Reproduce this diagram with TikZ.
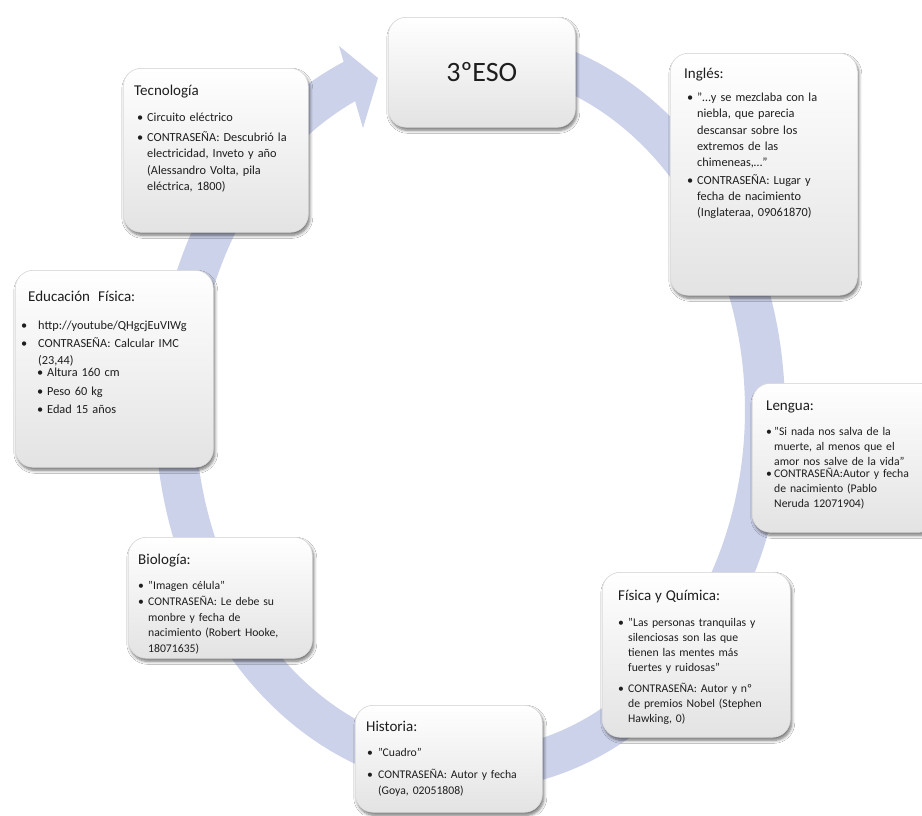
\documentclass[tikz,border=0pt]{standalone}
\usepackage{fontspec}
\setmainfont{Carlito}
\usetikzlibrary{shadows,shadows.blur}
\definecolor{ringc}{RGB}{204,210,234}
\definecolor{txt}{RGB}{30,30,30}
\newcommand{\hd}[2][0pt]{\noindent\hspace*{#1}{\fontsize{15}{18}\selectfont #2}\par}
\newcommand{\itm}[4]{\par\vspace{#1}\noindent\hspace*{#2}\makebox[0pt][l]{\textbullet}\hspace*{\dimexpr#3-#2\relax}\parbox[t]{220pt}{#4}\par}
\tikzset{
 sbox/.style={draw=black!15, line width=0.6pt, rounded corners=18pt, top color=white, bottom color=black!11, anchor=north west, inner sep=0pt, blur shadow={shadow xshift=1.5pt, shadow yshift=-3pt, shadow blur steps=6, shadow blur radius=3pt, shadow opacity=55}},
 stext/.style={anchor=north west, inner sep=0pt, text width=240pt, align=left, text=txt},
}
\begin{document}
\begin{tikzpicture}[x=1pt,y=-1pt]
\useasboundingbox (0,0) rectangle (922,815);
\fill[white] (0,0) rectangle (922,815);
% ring with arrow
\draw[ringc, line width=40pt] plot[domain=-248:80, samples=240, smooth] ({470+295*cos(\x)},{410-360*sin(\x)});
\fill[ringc] (339,46) -- (378,78) -- (363,128) -- cycle;
% boxes
\node[sbox, minimum width=187pt, minimum height=110pt] (eso) at (388,17) {};
\node[font=\fontsize{28}{30}\selectfont, text=txt] (esot) at (eso.center) {3ºESO};
\node[sbox, minimum width=185pt, minimum height=164pt] (tec) at (123,68) {};
\node[sbox, minimum width=187pt, minimum height=242pt] (ing) at (670,53) {};
\node[sbox, minimum width=198pt, minimum height=197pt] (edu) at (15,270) {};
\node[sbox, minimum width=185pt, minimum height=149pt] (len) at (752,383) {};
\node[sbox, minimum width=184pt, minimum height=121pt] (bio) at (128,537) {};
\node[sbox, minimum width=188pt, minimum height=165pt] (fyq) at (602,572) {};
\node[sbox, minimum width=187pt, minimum height=107pt] (his) at (355,705) {};
% texts
\node[stext, font=\fontsize{12.3}{16.5}\selectfont] (tect) at (134,84.5) {\hd{Tecnología}
\itm{9.5pt}{3pt}{13pt}{Circuito eléctrico}
\itm{3.5pt}{3pt}{13pt}{CONTRASEÑA: Descubrió la\\electricidad, Inveto y año\\(Alessandro Volta, pila\\eléctrica, 1800)}};
\node[stext, font=\fontsize{12.3}{16.3}\selectfont] (ingt) at (684,67.5) {\hd{Inglés:}
\itm{7pt}{3pt}{13pt}{"…y se mezclaba con la\\niebla, que parecia\\descansar sobre los\\extremos de las\\chimeneas,…"}
\itm{5.4pt}{3pt}{13pt}{CONTRASEÑA: Lugar y\\fecha de nacimiento\\(Inglateraa, 09061870)}};
\node[stext, font=\fontsize{12.3}{16.7}\selectfont] (edut) at (21,290.5) {\hd[7pt]{Educación\ \ Física:}
\itm{11.6pt}{0pt}{17pt}{http://youtube/QHgcjEuVIWg}
\itm{1.6pt}{0pt}{17pt}{CONTRASEÑA: Calcular IMC\\(23,44)}
\itm{1.2pt}{16pt}{26pt}{Altura 160 cm}
\itm{1.5pt}{16pt}{26pt}{Peso 60 kg}
\itm{1.5pt}{16pt}{26pt}{Edad 15 años}};
\node[stext, font=\fontsize{11.7}{15}\selectfont] (lent) at (766,400.5) {\hd{Lengua:}
\itm{10pt}{0pt}{8pt}{"Si nada nos salva de la\\muerte, al menos que el\\amor nos salve de la vida"}
\itm{1.7pt}{0pt}{8pt}{CONTRASEÑA:Autor y fecha\\de nacimiento (Pablo\\Neruda 12071904)}};
\node[stext, font=\fontsize{11.7}{15.5}\selectfont] (biot) at (138,553.5) {\hd{Biología:}
\itm{9.5pt}{0pt}{10pt}{"Imagen célula"}
\itm{1.2pt}{0pt}{10pt}{CONTRASEÑA: Le debe su\\monbre y fecha de\\nacimiento (Robert Hooke,\\18071635)}};
\node[stext, font=\fontsize{11.7}{15}\selectfont] (fyqt) at (618,589.5) {\hd{Física y Química:}
\itm{11.7pt}{0pt}{10pt}{"Las personas tranquilas y\\silenciosas son las que\\tienen las mentes más\\fuertes y ruidosas"}
\itm{8.3pt}{0pt}{10pt}{CONTRASEÑA: Autor y nº\\de premios Nobel (Stephen\\Hawking, 0)}};
\node[stext, font=\fontsize{11.7}{15.7}\selectfont] (hist) at (366,720.5) {\hd{Historia:}
\itm{9.3pt}{1pt}{12pt}{"Cuadro"}
\itm{7pt}{1pt}{12pt}{CONTRASEÑA: Autor y fecha\\(Goya, 02051808)}};
\end{tikzpicture}
\end{document}
